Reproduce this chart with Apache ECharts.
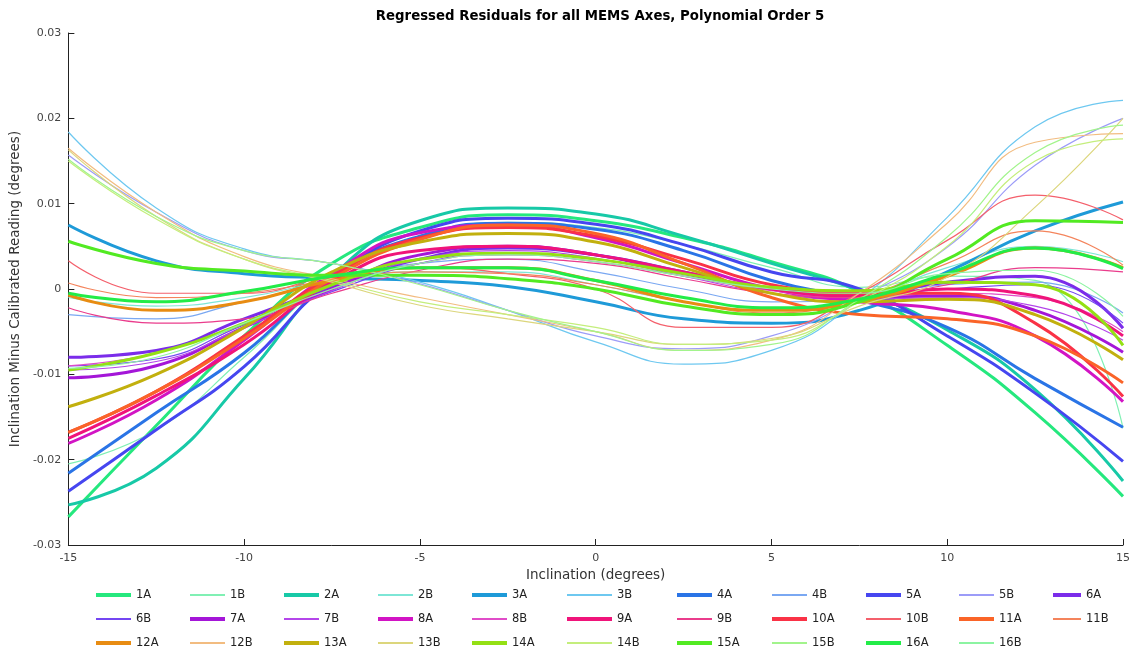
<!DOCTYPE html>
<html>
<head>
<meta charset="utf-8">
<script src="https://cdn.jsdelivr.net/npm/echarts@6/dist/echarts.min.js"></script>
<style>html,body{margin:0;padding:0;background:#fff}#c{width:1140px;height:653px}</style>
</head>
<body>
<div id="c"></div>
<script>
const xs = [-15, -12.5, -10, -7.5, -5, -2.5, 0, 2.5, 5, 7.5, 10, 12.5, 15];
const xTickLabels = ['-15', '-10', '-5', '0', '5', '10', '15'];
const yTickLabels = ['-0.03', '-0.02', '-0.01', '0', '0.01', '0.02', '0.03'];

const s1A  = [-0.0267, -0.0160, -0.0055, 0.0030, 0.0072, 0.0087, 0.0080, 0.0060, 0.0032, -0.0003, -0.0066, -0.0145, -0.0243];
const s1B  = [-0.0205, -0.0165, -0.0080, 0.0012, 0.0060, 0.0078, 0.0072, 0.0052, 0.0025, 0.0002, 0.0015, 0.0010, -0.0163];
const s2A  = [-0.0253, -0.0210, -0.0105, 0.0015, 0.0080, 0.0095, 0.0088, 0.0062, 0.0030, -0.0002, -0.0048, -0.0118, -0.0225];
const s2B  = [-0.0010, -0.0020, -0.0010, 0.0010, 0.0020, 0.0020, 0.0005, -0.0015, -0.0025, -0.0010, 0.0025, 0.0050, 0.0032];
const s3A  = [0.0075, 0.0033, 0.0018, 0.0013, 0.0010, 0.0003, -0.0015, -0.0035, -0.0040, -0.0025, 0.0020, 0.0068, 0.0102];
const s3B  = [0.0184, 0.0095, 0.0047, 0.0030, 0.0008, -0.0025, -0.0062, -0.0088, -0.0072, -0.0012, 0.0084, 0.0190, 0.0221];
const s4A  = [-0.0216, -0.0145, -0.0075, 0.0015, 0.0062, 0.0077, 0.0070, 0.0045, 0.0010, -0.0013, -0.0045, -0.0105, -0.0162];
const s4B  = [-0.0030, -0.0035, -0.0015, 0.0010, 0.0030, 0.0035, 0.0020, 0.0000, -0.0015, -0.0010, 0.0005, 0.0008, -0.0028];
const s5A  = [-0.0237, -0.0165, -0.0091, 0.0010, 0.0068, 0.0083, 0.0076, 0.0052, 0.0020, 0.0000, -0.0055, -0.0122, -0.0202];
const s5B  = [0.0157, 0.0090, 0.0045, 0.0030, 0.0006, -0.0025, -0.0055, -0.0070, -0.0055, -0.0010, 0.0049, 0.0145, 0.0200];
const s6A  = [-0.0080, -0.0072, -0.0035, 0.0002, 0.0035, 0.0048, 0.0040, 0.0020, 0.0000, -0.0005, 0.0008, 0.0015, -0.0046];
const s6B  = [-0.0090, -0.0082, -0.0042, -0.0003, 0.0030, 0.0042, 0.0035, 0.0018, 0.0000, -0.0008, 0.0000, 0.0005, -0.0040];
const s7A  = [-0.0104, -0.0090, -0.0045, 0.0000, 0.0040, 0.0050, 0.0040, 0.0018, 0.0000, -0.0010, -0.0008, -0.0025, -0.0074];
const s7B  = [-0.0095, -0.0085, -0.0045, -0.0002, 0.0035, 0.0045, 0.0036, 0.0015, -0.0005, -0.0012, -0.0010, -0.0020, -0.0060];
const s8A  = [-0.0181, -0.0130, -0.0060, 0.0018, 0.0066, 0.0075, 0.0060, 0.0030, 0.0000, -0.0015, -0.0025, -0.0055, -0.0132];
const s8B  = [-0.0090, -0.0075, -0.0040, 0.0000, 0.0030, 0.0040, 0.0032, 0.0015, -0.0002, -0.0010, -0.0005, -0.0010, -0.0050];
const s9A  = [-0.0175, -0.0125, -0.0065, 0.0008, 0.0045, 0.0050, 0.0040, 0.0020, 0.0000, -0.0008, 0.0000, -0.0008, -0.0055];
const s9B  = [-0.0022, -0.0040, -0.0035, -0.0005, 0.0022, 0.0035, 0.0030, 0.0012, -0.0005, -0.0010, 0.0005, 0.0025, 0.0020];
const s10A = [-0.0168, -0.0120, -0.0055, 0.0015, 0.0060, 0.0072, 0.0062, 0.0035, 0.0005, -0.0005, -0.0005, -0.0040, -0.0126];
const s10B = [0.0033, -0.0005, -0.0005, 0.0015, 0.0025, 0.0018, 0.0000, -0.0045, -0.0045, -0.0005, 0.0057, 0.0110, 0.0081];
const s11A = [-0.0168, -0.0120, -0.0058, 0.0012, 0.0058, 0.0075, 0.0065, 0.0030, -0.0010, -0.0030, -0.0035, -0.0055, -0.0110];
const s11B = [0.0007, -0.0010, -0.0005, 0.0010, 0.0020, 0.0018, 0.0005, -0.0015, -0.0028, -0.0010, 0.0030, 0.0068, 0.0028];
const s12A = [-0.0007, -0.0025, -0.0015, 0.0010, 0.0025, 0.0025, 0.0010, -0.0015, -0.0025, -0.0015, 0.0015, 0.0048, 0.0025];
const s12B = [0.0165, 0.0090, 0.0038, 0.0012, -0.0010, -0.0030, -0.0050, -0.0072, -0.0060, -0.0005, 0.0077, 0.0172, 0.0182];
const s13A = [-0.0138, -0.0100, -0.0045, 0.0020, 0.0055, 0.0065, 0.0055, 0.0025, -0.0005, -0.0015, -0.0012, -0.0030, -0.0083];
const s13B = [0.0163, 0.0085, 0.0035, 0.0008, -0.0019, -0.0035, -0.0050, -0.0065, -0.0058, -0.0020, 0.0014, 0.0096, 0.0200];
const s14A = [-0.0095, -0.0075, -0.0040, 0.0005, 0.0035, 0.0042, 0.0035, 0.0018, 0.0002, -0.0002, 0.0008, 0.0005, -0.0066];
const s14B = [0.0150, 0.0082, 0.0035, 0.0010, -0.0015, -0.0030, -0.0045, -0.0065, -0.0060, -0.0015, 0.0050, 0.0150, 0.0176];
const s15A = [0.0056, 0.0030, 0.0021, 0.0016, 0.0016, 0.0012, 0.0000, -0.0020, -0.0030, -0.0015, 0.0035, 0.0080, 0.0078];
const s15B = [0.0152, 0.0085, 0.0045, 0.0030, 0.0005, -0.0025, -0.0050, -0.0072, -0.0065, -0.0012, 0.0061, 0.0160, 0.0192];
const s16A = [-0.0005, -0.0015, -0.0003, 0.0015, 0.0025, 0.0025, 0.0010, -0.0010, -0.0022, -0.0012, 0.0018, 0.0048, 0.0024];
const s16B = [-0.0093, -0.0080, -0.0040, 0.0000, 0.0030, 0.0040, 0.0032, 0.0015, 0.0000, -0.0005, 0.0018, 0.0022, -0.0032];

const names = ['1A','1B','2A','2B','3A','3B','4A','4B','5A','5B','6A','6B','7A','7B','8A','8B',
               '9A','9B','10A','10B','11A','11B','12A','12B','13A','13B','14A','14B','15A','15B','16A','16B'];
const values = [s1A,s1B,s2A,s2B,s3A,s3B,s4A,s4B,s5A,s5B,s6A,s6B,s7A,s7B,s8A,s8B,
                s9A,s9B,s10A,s10B,s11A,s11B,s12A,s12B,s13A,s13B,s14A,s14B,s15A,s15B,s16A,s16B];
const colors = ['#25e87e','#80f0b4','#17c9a7','#7de6d6','#1e9ad8','#6ec8f0','#2a74e6','#7aa8f2',
                '#4646f0','#9c9cf8','#7b2cea','#7446f2','#a416d8','#b446ea','#d214c4','#e04cc8',
                '#f0147a','#ea3c8c','#fa3246','#f4606c','#fa6428','#f4845c','#e88c12','#f2bc80',
                '#c2b00e','#dcd67c','#94e014','#c4ee7c','#52ea22','#a2f48c','#22ec48','#8cf4a2'];

const FONT = 'DejaVu Sans';
const isThick = n => n.endsWith('A');
const series = names.map((n, i) => ({
  name: n,
  type: 'line',
  data: xs.map((x, k) => [x, values[i][k]]),
  smooth: true,
  symbol: 'none',
  lineStyle: { color: colors[i], width: isThick(n) ? 3 : 1.2 },
  itemStyle: { color: colors[i] },
  emphasis: { disabled: true },
  z: 2
}));

// legend: 3 rows x 11 columns, one small legend per entry
const colLeft = [96, 190, 284, 378, 472, 567, 677, 772, 866, 959, 1053];
const colWidth = [35, 35, 35, 35, 35, 45, 35, 35, 35, 35, 28];
const rowCenter = [595, 619, 643];
const legends = names.map((n, idx) => {
  const r = Math.floor(idx / 11), c = idx % 11;
  const h = isThick(n) ? 4 : 2;
  return {
    data: [{ name: n, icon: 'rect' }],
    left: colLeft[c], top: rowCenter[r] - 8, height: 16,
    orient: 'horizontal', itemWidth: colWidth[c], itemHeight: h,
    selectedMode: false, padding: 0,
    itemStyle: { color: colors[idx], borderWidth: 0 },
    textStyle: { fontFamily: FONT, fontSize: 11.5, color: '#222', lineHeight: 16 }
  };
});

const chart = echarts.init(document.getElementById('c'), null, { renderer: 'canvas' });
chart.setOption({
  animation: false,
  backgroundColor: '#fff',
  title: {
    text: 'Regressed Residuals for all MEMS Axes, Polynomial Order 5',
    left: 595, top: 5, textAlign: 'center',
    textStyle: { fontFamily: FONT, fontSize: 13.3, fontWeight: 'bold', color: '#000' }
  },
  legend: legends,
  grid: { left: 67, right: 17, top: 33, bottom: 108, containLabel: false },
  xAxis: {
    type: 'value', min: -15, max: 15, interval: 5,
    name: 'Inclination (degrees)', nameLocation: 'middle', nameGap: 21,
    nameTextStyle: { fontFamily: FONT, fontSize: 13.5, color: '#333' },
    axisLine: { onZero: false, lineStyle: { color: '#222', width: 1 } },
    axisTick: { inside: true, length: 6, lineStyle: { color: '#222' } },
    axisLabel: { fontFamily: FONT, fontSize: 11, color: '#444', margin: 8,
      formatter: v => xTickLabels[Math.round((v + 15) / 5)] },
    splitLine: { show: false }
  },
  yAxis: {
    type: 'value', min: -0.03, max: 0.03, interval: 0.01,
    name: 'Inclination Minus Calibrated Reading (degrees)', nameLocation: 'middle', nameGap: 42,
    nameTextStyle: { fontFamily: FONT, fontSize: 13.5, color: '#333' },
    axisLine: { show: true, onZero: false, lineStyle: { color: '#222', width: 1 } },
    axisTick: { show: true, inside: true, length: 6, lineStyle: { color: '#222' } },
    axisLabel: { fontFamily: FONT, fontSize: 11, color: '#444', margin: 7,
      formatter: v => yTickLabels[Math.round((v + 0.03) / 0.01)] },
    splitLine: { show: false }
  },
  series
});
</script>
</body>
</html>
